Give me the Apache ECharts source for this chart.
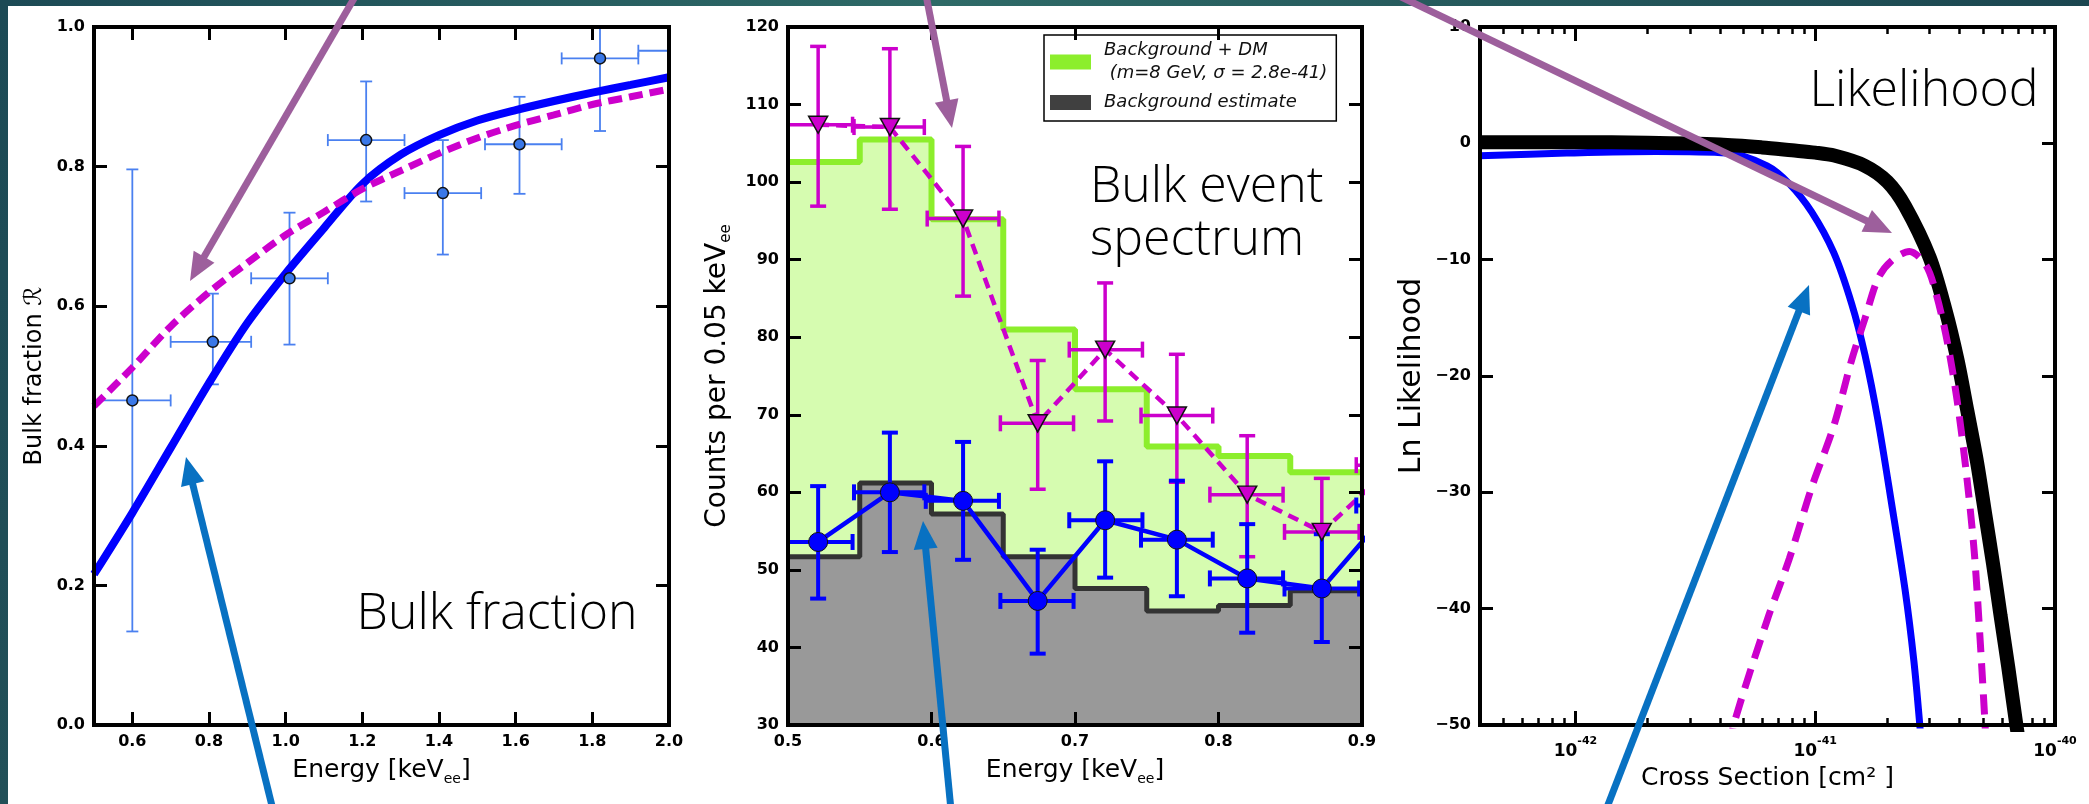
<!DOCTYPE html>
<html><head><meta charset="utf-8">
<script src="https://cdn.jsdelivr.net/npm/echarts@6/dist/echarts.min.js"></script>
<style>html,body{margin:0;padding:0;background:#fff;}#c{width:2089px;height:804px;}</style>
</head><body><div id="c"></div>
<script>
// ---------------- Panel 1: bulk fraction ----------------
const p1PtE   = [0.60, 0.81, 1.01, 1.21, 1.41, 1.61, 1.82, 2.02];
const p1PtR   = [0.465, 0.549, 0.640, 0.838, 0.762, 0.832, 0.955, 0.966];
const p1PtELo = [0.50, 0.70, 0.91, 1.11, 1.31, 1.52, 1.72, 1.92];
const p1PtEHi = [0.70, 0.91, 1.11, 1.31, 1.51, 1.72, 1.92, 2.12];
const p1PtRLo = [0.134, 0.488, 0.545, 0.750, 0.674, 0.761, 0.851, 0.900];
const p1PtRHi = [0.796, 0.618, 0.734, 0.922, 0.838, 0.900, 1.060, 1.030];
const p1CurveE = [0.5, 0.6, 0.7, 0.8, 0.9, 1.0, 1.1, 1.2, 1.3, 1.4, 1.5, 1.6, 1.7, 1.8, 1.9, 2.0];
const p1BlueFit = [0.216, 0.304, 0.397, 0.490, 0.576, 0.647, 0.712, 0.775, 0.817, 0.845, 0.866, 0.881, 0.894, 0.906, 0.917, 0.928];
const p1DmFit   = [0.457, 0.512, 0.571, 0.620, 0.662, 0.702, 0.735, 0.768, 0.794, 0.819, 0.841, 0.859, 0.874, 0.889, 0.900, 0.911];
const p1XTicks = [0.6, 0.8, 1.0, 1.2, 1.4, 1.6, 1.8, 2.0];

// ---------------- Panel 2: bulk event spectrum ----------------
const p2BinEdges = [0.50, 0.55, 0.60, 0.65, 0.70, 0.75, 0.80, 0.85, 0.90];
const p2BgDm     = [102.6, 105.5, 95.2, 81.0, 73.3, 65.9, 64.7, 62.6];
const p2Bg       = [51.7, 61.2, 57.2, 51.7, 47.6, 44.7, 45.4, 47.3];
const p2BlueE   = [0.521, 0.571, 0.622, 0.674, 0.721, 0.771, 0.820, 0.872, 0.922];
const p2BlueC   = [53.6, 60.0, 58.9, 46.0, 56.4, 53.9, 48.9, 47.6, 58.3];
const p2BlueCLo = [46.3, 52.3, 51.3, 39.2, 49.0, 46.6, 41.9, 40.7, 51.0];
const p2BlueCHi = [60.8, 67.7, 66.5, 52.6, 64.0, 61.5, 55.9, 54.6, 65.0];
const p2BlueELo = [0.497, 0.546, 0.596, 0.648, 0.696, 0.746, 0.794, 0.846, 0.896];
const p2BlueEHi = [0.545, 0.595, 0.647, 0.699, 0.747, 0.796, 0.845, 0.898, 0.948];
const p2MagE   = [0.521, 0.571, 0.622, 0.674, 0.721, 0.771, 0.820, 0.872, 0.922];
const p2MagC   = [107.4, 107.1, 95.3, 68.9, 78.4, 69.9, 59.7, 54.9, 63.5];
const p2MagCLo = [96.9, 96.5, 85.3, 60.4, 69.2, 61.3, 51.7, 48.0, 56.0];
const p2MagCHi = [117.5, 117.2, 104.6, 77.0, 87.0, 77.8, 67.3, 61.8, 71.0];
const p2MagELo = [0.497, 0.546, 0.597, 0.648, 0.696, 0.746, 0.794, 0.846, 0.896];
const p2MagEHi = [0.545, 0.595, 0.647, 0.699, 0.747, 0.796, 0.845, 0.898, 0.948];
const p2NameDm = 'Background + DM\n (m=8 GeV, σ = 2.8e-41)';
const p2NameBg = 'Background estimate';

// ---------------- Panel 3: likelihood ----------------
const p3BlackX = [4.0e-43, 1e-42, 2e-42, 4e-42, 6e-42, 8e-42, 1.0e-41, 1.2e-41, 1.6e-41, 2.0e-41, 2.37e-41, 3.0e-41, 3.48e-41, 3.92e-41, 4.31e-41, 4.73e-41, 5.11e-41, 5.52e-41, 5.93e-41, 6.38e-41, 6.9e-41, 7.2e-41];
const p3BlackY = [0.1, 0.1, 0.05, -0.1, -0.35, -0.6, -0.8, -1.05, -1.9, -3.3, -5.4, -9.8, -14.2, -18.6, -23.0, -27.4, -31.8, -36.2, -40.6, -45.0, -50.0, -52.5];
const p3BlueX = [4.0e-43, 9.2e-43, 2.16e-42, 4.29e-42, 6.3e-42, 7.8e-42, 9.66e-42, 1.195e-41, 1.419e-41, 1.612e-41, 1.83e-41, 2.08e-41, 2.37e-41, 2.58e-41, 2.73e-41, 2.8e-41];
const p3BlueY = [-1.06, -0.84, -0.71, -0.84, -1.94, -3.48, -5.89, -9.40, -13.79, -18.18, -23.89, -30.91, -38.38, -44.52, -50.0, -53.0];
const p3DmX = [4.45e-42, 4.57e-42, 6.3e-42, 7.8e-42, 9.66e-42, 1.195e-41, 1.42e-41, 1.61e-41, 1.83e-41, 2.08e-41, 2.47e-41, 2.9e-41, 3.2e-41, 3.55e-41, 3.9e-41, 4.25e-41, 4.6e-41, 4.85e-41, 5.11e-41, 5.25e-41];
const p3DmY = [-52.0, -50.0, -41.0, -35.7, -29.6, -24.3, -18.6, -15.1, -11.6, -10.1, -9.3, -10.5, -13.0, -17.0, -22.0, -28.0, -35.0, -42.0, -50.0, -55.0];
const p3XMin = 4e-43, p3XMax = 1e-40;
const p3XTicks = [1e-42, 1e-41, 1e-40];
const p3MinorTicks = [5e-43, 6e-43, 7e-43, 8e-43, 9e-43, 2e-42, 3e-42, 4e-42, 5e-42, 6e-42, 7e-42, 8e-42, 9e-42, 2e-41, 3e-41, 4e-41, 5e-41, 6e-41, 7e-41, 8e-41, 9e-41];

// ---------------- helpers ----------------
const AXF = "'DejaVu Sans', sans-serif";
const TXF = "'Open Sans', 'Lato', sans-serif";
const zip = (a, b) => a.map((v, i) => [v, b[i]]);
const rows = (...cols) => cols[0].map((_, i) => cols.map(c => c[i]));
const lg = v => Math.log10(v);

const AL = {show: true, onZero: false, lineStyle: {color: '#000', width: 4, cap: 'square'}};
const ALhidden = {show: false, onZero: false};
const AT = {show: true, inside: true, length: 13, lineStyle: {color: '#000', width: 3}};
const LB = {show: true, color: '#000', fontFamily: AXF, fontWeight: 'bold', fontSize: 16, margin: 9};
function nameStyle(fs) {
  return {rich: {
    t: {fontFamily: AXF, fontSize: fs, color: '#000', lineHeight: 32},
    s: {fontFamily: AXF, fontSize: Math.round(fs * 0.55), color: '#000', lineHeight: 14, verticalAlign: 'bottom'}
  }};
}
function ax(o) {
  return Object.assign({z: 10, splitLine: {show: false}, axisLine: AL, axisTick: AT, axisLabel: {show: false}}, o);
}
function errRender(color, lw, cap) {
  return function (params, api) {
    const x = api.value(0), y = api.value(1);
    const c = api.coord([x, y]);
    const xl = api.coord([api.value(2), y]), xh = api.coord([api.value(3), y]);
    const yl = api.coord([x, api.value(4)]), yh = api.coord([x, api.value(5)]);
    const st = {stroke: color, lineWidth: lw};
    const L = (x1, y1, x2, y2) => ({type: 'line', shape: {x1, y1, x2, y2}, style: st});
    return {type: 'group', children: [
      L(xl[0], c[1], xh[0], c[1]),
      L(xl[0], c[1] - cap, xl[0], c[1] + cap),
      L(xh[0], c[1] - cap, xh[0], c[1] + cap),
      L(c[0], yl[1], c[0], yh[1]),
      L(c[0] - cap, yl[1], c[0] + cap, yl[1]),
      L(c[0] - cap, yh[1], c[0] + cap, yh[1])
    ]};
  };
}
function arrow(x1, y1, x2, y2, color) {
  const dx = x2 - x1, dy = y2 - y1, len = Math.hypot(dx, dy);
  const ux = dx / len, uy = dy / len, hl = 28, hw = 12;
  const bx = x2 - ux * hl, by = y2 - uy * hl;
  return [
    {type: 'line', z: 100, shape: {x1, y1, x2: bx + ux * 2, y2: by + uy * 2}, style: {stroke: color, lineWidth: 7}},
    {type: 'polygon', z: 100, shape: {points: [[x2, y2], [bx - uy * hw, by + ux * hw], [bx + uy * hw, by - ux * hw]]}, style: {fill: color}}
  ];
}
const PURPLE = '#9d5f9c', ABLUE = '#0871c2';
const logTickAxis = o => ax(Object.assign({gridIndex: 2, type: 'value', min: lg(p3XMin), max: lg(p3XMax)}, o));

const chart = echarts.init(document.getElementById('c'), null, {renderer: 'canvas'});
const option = {
  animation: false,
  backgroundColor: '#ffffff',
  grid: [
    {left: 94, top: 27, width: 575, height: 698},
    {left: 788, top: 27, width: 574, height: 698},
    {left: 1480, top: 27, width: 575, height: 698}
  ],
  xAxis: [
    ax({gridIndex: 0, type: 'value', position: 'bottom', min: 0.5, max: 2.0,
      axisTick: Object.assign({}, AT, {customValues: p1XTicks}),
      axisLabel: Object.assign({}, LB, {customValues: p1XTicks, formatter: v => v.toFixed(1)}),
      name: '{t|Energy [keV}{s|ee}{t|]}', nameLocation: 'middle', nameGap: 29, nameTextStyle: nameStyle(25)}),
    ax({gridIndex: 0, type: 'value', position: 'top', min: 0.5, max: 2.0,
      axisTick: Object.assign({}, AT, {customValues: p1XTicks})}),
    ax({gridIndex: 1, type: 'value', position: 'bottom', min: 0.5, max: 0.9, interval: 0.1,
      axisLabel: Object.assign({}, LB, {formatter: v => v.toFixed(1)}),
      name: '{t|Energy [keV}{s|ee}{t|]}', nameLocation: 'middle', nameGap: 29, nameTextStyle: nameStyle(25)}),
    ax({gridIndex: 1, type: 'value', position: 'top', min: 0.5, max: 0.9, interval: 0.1}),
    // panel 3 data axis (log scale, drawn invisibly; ticks drawn by the axes below)
    {gridIndex: 2, type: 'log', logBase: 10, position: 'bottom', min: p3XMin, max: p3XMax,
      axisLine: ALhidden, axisTick: {show: false}, axisLabel: {show: false}, splitLine: {show: false}},
    logTickAxis({position: 'bottom',
      axisTick: Object.assign({}, AT, {length: 14, customValues: p3XTicks.map(lg)}),
      axisLabel: Object.assign({}, LB, {margin: 11, customValues: p3XTicks.map(lg),
        formatter: v => '{b|10}{s|' + Math.round(v) + '}',
        rich: {b: {fontFamily: AXF, fontWeight: 'bold', fontSize: 17, color: '#000', lineHeight: 24, verticalAlign: 'bottom'},
               s: {fontFamily: AXF, fontWeight: 'bold', fontSize: 11, color: '#000', lineHeight: 24, verticalAlign: 'top'}}}),
      name: '{t|Cross Section [cm² ]}', nameLocation: 'middle', nameGap: 37, nameTextStyle: nameStyle(25)}),
    logTickAxis({position: 'top', axisTick: Object.assign({}, AT, {length: 14, customValues: p3XTicks.map(lg)})}),
    logTickAxis({position: 'bottom', axisLine: ALhidden,
      axisTick: Object.assign({}, AT, {length: 7, lineStyle: {color: '#000', width: 2.5}, customValues: p3MinorTicks.map(lg)})}),
    logTickAxis({position: 'top', axisLine: ALhidden,
      axisTick: Object.assign({}, AT, {length: 7, lineStyle: {color: '#000', width: 2.5}, customValues: p3MinorTicks.map(lg)})})
  ],
  yAxis: [
    ax({gridIndex: 0, type: 'value', position: 'left', min: 0, max: 1, interval: 0.2,
      axisLabel: Object.assign({}, LB, {formatter: v => v.toFixed(1)}),
      name: '{t|Bulk fraction ℛ}', nameLocation: 'middle', nameGap: 43, nameTextStyle: nameStyle(24)}),
    ax({gridIndex: 0, type: 'value', position: 'right', min: 0, max: 1, interval: 0.2}),
    ax({gridIndex: 1, type: 'value', position: 'left', min: 30, max: 120, interval: 10,
      axisLabel: Object.assign({}, LB),
      name: '{t|Counts per 0.05 keV}{s|ee}', nameLocation: 'middle', nameGap: 54, nameTextStyle: nameStyle(28)}),
    ax({gridIndex: 1, type: 'value', position: 'right', min: 30, max: 120, interval: 10}),
    ax({gridIndex: 2, type: 'value', position: 'left', min: -50, max: 10, interval: 10,
      axisLabel: Object.assign({}, LB, {formatter: v => (v < 0 ? '−' + (-v) : String(v))}),
      name: '{t|Ln Likelihood}', nameLocation: 'middle', nameGap: 52, nameTextStyle: nameStyle(30)}),
    ax({gridIndex: 2, type: 'value', position: 'right', min: -50, max: 10, interval: 10})
  ],
  legend: {
    left: 1044, top: 35, orient: 'vertical', selectedMode: false,
    data: [
      {name: p2NameDm, icon: 'rect', itemStyle: {color: '#8cee2c', borderWidth: 0}},
      {name: p2NameBg, icon: 'rect', itemStyle: {color: '#404040', borderWidth: 0}}
    ],
    itemWidth: 41, itemHeight: 15, itemGap: 6,
    padding: [4, 9, 7, 6], borderColor: '#000', borderWidth: 1.5, backgroundColor: '#fff',
    textStyle: {fontFamily: AXF, fontStyle: 'italic', fontSize: 18, color: '#111', lineHeight: 23, padding: [0, 0, 0, 8]}
  },
  series: [
    // panel 1
    {type: 'custom', name: 'p1err', xAxisIndex: 0, yAxisIndex: 0, clip: true, z: 2,
      renderItem: errRender('#4a80f0', 1.8, 6), encode: {x: 0, y: 1},
      data: rows(p1PtE, p1PtR, p1PtELo, p1PtEHi, p1PtRLo, p1PtRHi)},
    {type: 'line', name: 'p1blue', xAxisIndex: 0, yAxisIndex: 0, z: 3, smooth: 0.3, showSymbol: false,
      lineStyle: {color: '#0000ff', width: 8}, data: zip(p1CurveE, p1BlueFit)},
    {type: 'line', name: 'p1dm', xAxisIndex: 0, yAxisIndex: 0, z: 3, smooth: 0.3, showSymbol: false,
      lineStyle: {color: '#cc00cc', width: 7, type: [14, 7]}, data: zip(p1CurveE, p1DmFit)},
    {type: 'scatter', name: 'p1pts', xAxisIndex: 0, yAxisIndex: 0, z: 4, symbolSize: 11,
      itemStyle: {color: '#3a78e8', borderColor: '#111', borderWidth: 1.5, opacity: 1}, data: zip(p1PtE, p1PtR)},
    // panel 2
    {type: 'line', name: p2NameDm, xAxisIndex: 2, yAxisIndex: 2, z: 1, step: 'end', showSymbol: false,
      lineStyle: {color: '#8cee2c', width: 6}, itemStyle: {color: '#8cee2c'},
      areaStyle: {color: '#d6fcb0', opacity: 1, origin: 'start'},
      data: zip(p2BinEdges, p2BgDm.concat([p2BgDm[p2BgDm.length - 1]]))},
    {type: 'line', name: p2NameBg, xAxisIndex: 2, yAxisIndex: 2, z: 2, step: 'end', showSymbol: false,
      lineStyle: {color: '#333333', width: 5}, itemStyle: {color: '#404040'},
      areaStyle: {color: '#999999', opacity: 1, origin: 'start'},
      data: zip(p2BinEdges, p2Bg.concat([p2Bg[p2Bg.length - 1]]))},
    {type: 'line', name: 'p2magline', xAxisIndex: 2, yAxisIndex: 2, z: 3, showSymbol: false,
      lineStyle: {color: '#cc00cc', width: 4.5, type: [11, 7]}, data: zip(p2MagE, p2MagC)},
    {type: 'custom', name: 'p2magerr', xAxisIndex: 2, yAxisIndex: 2, clip: true, z: 3,
      renderItem: errRender('#cc00cc', 3.5, 8), encode: {x: 0, y: 1},
      data: rows(p2MagE, p2MagC, p2MagELo, p2MagEHi, p2MagCLo, p2MagCHi)},
    {type: 'scatter', name: 'p2magpts', xAxisIndex: 2, yAxisIndex: 2, z: 5, symbol: 'triangle', symbolRotate: 180,
      symbolSize: [19, 17], itemStyle: {color: '#cc00cc', borderColor: '#111', borderWidth: 1.5, opacity: 1},
      data: zip(p2MagE, p2MagC)},
    {type: 'line', name: 'p2blueline', xAxisIndex: 2, yAxisIndex: 2, z: 4, showSymbol: false,
      lineStyle: {color: '#0000ff', width: 4.5}, data: zip(p2BlueE, p2BlueC)},
    {type: 'custom', name: 'p2blueerr', xAxisIndex: 2, yAxisIndex: 2, clip: true, z: 4,
      renderItem: errRender('#0000ff', 4, 8), encode: {x: 0, y: 1},
      data: rows(p2BlueE, p2BlueC, p2BlueELo, p2BlueEHi, p2BlueCLo, p2BlueCHi)},
    {type: 'scatter', name: 'p2bluepts', xAxisIndex: 2, yAxisIndex: 2, z: 6, symbolSize: 19,
      itemStyle: {color: '#0000ff', borderColor: '#111', borderWidth: 1, opacity: 1}, data: zip(p2BlueE, p2BlueC)},
    // panel 3
    {type: 'line', name: 'p3blue', xAxisIndex: 4, yAxisIndex: 4, z: 2, smooth: 0.3, showSymbol: false,
      lineStyle: {color: '#0000ff', width: 7}, data: zip(p3BlueX, p3BlueY)},
    {type: 'line', name: 'p3black', xAxisIndex: 4, yAxisIndex: 4, z: 3, smooth: 0.3, showSymbol: false,
      lineStyle: {color: '#000000', width: 14}, data: zip(p3BlackX, p3BlackY)},
    {type: 'line', name: 'p3dm', xAxisIndex: 4, yAxisIndex: 4, z: 4, smooth: 0.3, showSymbol: false,
      lineStyle: {color: '#cc00cc', width: 7, type: [20, 11]}, data: zip(p3DmX, p3DmY)}
  ],
  graphic: [
    {type: 'rect', z: 50, shape: {x: 0, y: 0, width: 2089, height: 6},
      style: {fill: {type: 'linear', x: 0, y: 0, x2: 1, y2: 0, colorStops: [
        {offset: 0, color: '#1c4a55'}, {offset: 0.45, color: '#2e6a67'}, {offset: 1, color: '#1b4650'}]}}},
    {type: 'rect', z: 50, shape: {x: 0, y: 0, width: 8, height: 804},
      style: {fill: {type: 'linear', x: 0, y: 0, x2: 0, y2: 1, colorStops: [
        {offset: 0, color: '#1c4a55'}, {offset: 1, color: '#225058'}]}}},
    {type: 'text', z: 60, x: 497, y: 615, style: {text: 'Bulk fraction', font: '300 50px ' + TXF, fill: '#000', textAlign: 'center', textVerticalAlign: 'middle'}},
    {type: 'text', z: 60, x: 1090, y: 188, style: {text: 'Bulk event', font: '300 50px ' + TXF, fill: '#000', textAlign: 'left', textVerticalAlign: 'middle'}},
    {type: 'text', z: 60, x: 1090, y: 241, style: {text: 'spectrum', font: '300 50px ' + TXF, fill: '#000', textAlign: 'left', textVerticalAlign: 'middle'}},
    {type: 'text', z: 60, x: 1924, y: 92, style: {text: 'Likelihood', font: '300 50px ' + TXF, fill: '#000', textAlign: 'center', textVerticalAlign: 'middle'}}
  ]
    .concat(arrow(356, -5, 190, 281, PURPLE))
    .concat(arrow(926, -5, 952, 128, PURPLE))
    .concat(arrow(1397, -5, 1892, 233, PURPLE))
    .concat(arrow(273, 810, 186, 457, ABLUE))
    .concat(arrow(951, 810, 923, 521, ABLUE))
    .concat(arrow(1606, 810, 1809, 285, ABLUE))
};
chart.setOption(option);
</script>
</body></html>
